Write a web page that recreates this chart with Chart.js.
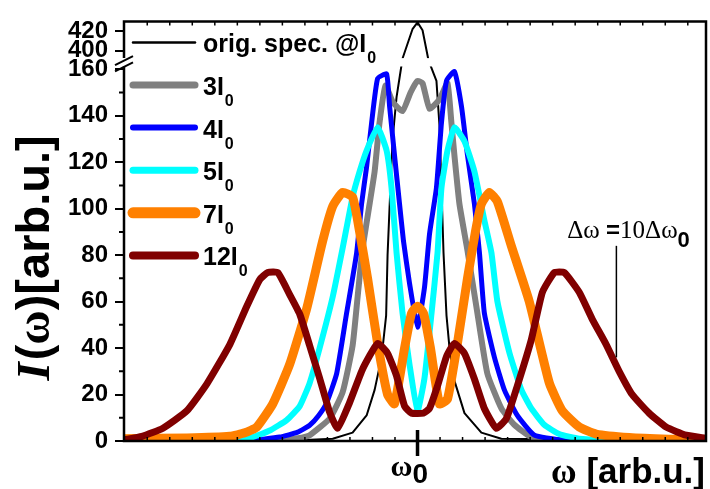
<!DOCTYPE html>
<html><head><meta charset="utf-8">
<script src="https://cdn.jsdelivr.net/npm/chart.js@4/dist/chart.umd.min.js"></script>
<style>html,body{margin:0;padding:0;background:#fff;}canvas{display:block;}</style>
</head><body>
<canvas id="c" width="710" height="489"></canvas>
<script>
// ---------- data (ω in arbitrary units, ω0 = 0; I(ω) in arb. units) ----------
const X_MIN = -24.5, X_MAX = 24.08;
const seriesLabels = ['orig. spec. @I', '3I', '4I', '5I', '7I', '12I'];
const yTickValues = [0, 20, 40, 60, 80, 100, 120, 140, 160, 400, 420];
const yTickLabels = ['0', '20', '40', '60', '80', '100', '120', '140', '160', '400', '420'];
const yMinorValues = [10, 30, 50, 70, 90, 110, 130, 150];
const Y_TOP_VALUE = 430;

const origX = [-24.5,-9.83,-7.08,-5.42,-4.25,-3.58,-3,-2.62,-2.5,-2.33,-2.08,-1.75,-1.25,-0.42,0,0.42,0.92,1.58,1.83,2,2.17,2.42,2.67,3.08,3.92,5.33,7,24.08];
const origY = [0,0.3,1,3.6,11,22,36,54,80,101,130,148,392,422,429,421,390,155,136,109,81,54,40,26,12,3.6,1,0];

const i3X = [-24.5,-12.33,-9.83,-9,-7.33,-6.25,-5.42,-5,-4.58,-4,-3.58,-3.17,-2.67,-2.08,-1.25,-0.58,0,0.42,1,1.83,2.5,2.83,3.08,3.5,4.17,5,5.83,7,8.08,9.5,11.83,24.08];
const i3Y = [0,0.2,1.3,2.5,9.7,21,41,62,83,102,116,137,153,146,142,150,155,154,143,147,154,137,123,102,82,55,29,14,7,1.7,0.3,0];

const i4X = [-24.5,-14,-11.5,-10,-9,-8.25,-7.58,-6.75,-5.92,-5.08,-4.67,-4.25,-3.83,-3.33,-2.58,-2.33,-1.92,-1.5,-1.17,-0.67,0,0.58,1,1.58,2,2.42,3.08,3.67,4.17,4.75,5.17,5.58,6.42,7.25,8.33,9.75,11.83,15.17,24.08];
const i4Y = [0,0.3,1.7,3.8,6.8,11,16.5,29,55,81,102,118,137,156,158,144,123,102,86,68,49,66,89,109,137,155,159,144,123,102,81,55,36,22,11,2.5,0.5,0,0];

const i5X = [-24.5,-15.67,-13.75,-12.33,-10.92,-9.83,-9,-8.17,-7.08,-6.25,-5.42,-4.83,-4.25,-3.33,-2.58,-2.17,-1.75,-1.25,-0.67,0,0.58,1.17,1.67,2,2.5,3.08,3.92,4.75,5.58,6.17,6.67,7.67,8.67,9.5,10.58,11.83,13.5,16.83,24.08];
const i5Y = [0,0.3,1.7,4.5,9,15,25,40,62,83,105,116,125,135,125,109,81,55,33,13,27,55,81,109,125,135,129,116,95,81,60,38,22,14,7,3,1,0.2,0];

const i7X = [-24.5,-19.25,-15.67,-14.42,-13.42,-12.08,-10.67,-9.25,-7.92,-7.08,-6.25,-5.42,-4.83,-4.17,-3.33,-2.5,-1.92,-1.08,-0.5,0,0.5,1.08,1.83,2.5,3.33,4.17,4.83,5.33,6,6.67,7.83,9.33,11,12.08,13.5,14.92,17.67,21,24.08];
const i7Y = [1,1.3,2,3.5,6,16,33,57,86,101,107,105,90,70,42,20,16,40,55,58,55,40,16,18,42,70,90,102,107,103,84,60,25,13,6,3,1.5,0.8,0.5];

const i12X = [-24.5,-23,-21.25,-19.25,-17.58,-15.67,-14.25,-13.17,-12.5,-11.67,-10.67,-9.83,-9,-8.17,-7.33,-6.67,-5.67,-4.58,-3.33,-2.5,-1.75,-1.08,-0.5,0.5,1,1.67,2.42,3.08,3.92,4.75,5.58,6.58,7.42,8.33,9.5,10.42,11.42,12.25,13.5,14.58,15.75,16.83,17.92,19.33,20.75,22.42,24.08];
const i12Y = [0.5,2,5.5,13,24.6,41.5,58,69.5,72.5,72.5,63,54.6,41,27,12.3,5.5,16.5,31,42,37.7,28,15,12,12,14,23.7,36.4,42,37.7,26.7,14,5.5,9.7,23.7,43.6,64,72.5,72.5,64,52.5,41.5,30,20,12,6,2.5,1.2];

// annotation "Δω = 10Δω0" (data coordinates)
const annotTextX = 12.5, annotTextY = 87.5;
const annotLineX = 16.6, annotLineY1 = 36, annotLineY2 = 84;

// ---------- broken y axis: 0..160 linear, then 400..430 compressed ----------
const BREAK_LOW = 160, BREAK_REF = 400, UPPER_OFFSET = 168, UPPER_FACTOR = 0.42;
const BREAK_GAP = [161.2, 164.8];
function toAxis(v) { return v <= BREAK_LOW ? v : UPPER_OFFSET + (v - BREAK_REF) * UPPER_FACTOR; }
function pts(xs, ys) { return xs.map((x, i) => ({ x: x, y: toAxis(ys[i]) })); }

const SANS = '"Liberation Sans", Arial, sans-serif';
const SERIF = '"Liberation Serif", "Times New Roman", serif';

const styles = [
  { color: '#000000', width: 2, lw: 2.5, tension: 0 },
  { color: '#808080', width: 6, lw: 7, tension: 0.15 },
  { color: '#0000ff', width: 5, lw: 6, tension: 0.15 },
  { color: '#00ffff', width: 6, lw: 7, tension: 0.15 },
  { color: '#ff8000', width: 9, lw: 11, tension: 0.15 },
  { color: '#800000', width: 7, lw: 8, tension: 0.15 }
];
const seriesData = [pts(origX, origY), pts(i3X, i3Y), pts(i4X, i4Y), pts(i5X, i5Y), pts(i7X, i7Y), pts(i12X, i12Y)];

const datasets = seriesData.map((d, i) => ({
  label: seriesLabels[i],
  data: d,
  borderColor: styles[i].color,
  borderWidth: styles[i].width,
  legendWidth: styles[i].lw,
  pointRadius: 0,
  tension: styles[i].tension,
  fill: false,
  borderJoinStyle: 'round',
  borderCapStyle: 'butt',
  order: 6 - i
}));

function drawParts(ctx, parts, x, y) {
  let cx = x;
  parts.forEach(p => {
    ctx.font = p.f;
    ctx.fillText(p.t, cx, y + (p.dy || 0));
    cx += ctx.measureText(p.t).width + (p.gap || 0);
  });
  return cx - x;
}
function measureParts(ctx, parts) {
  let w = 0;
  parts.forEach(p => { ctx.font = p.f; w += ctx.measureText(p.t).width + (p.gap || 0); });
  return w;
}

const decor = {
  id: 'decor',
  afterDatasetsDraw(chart) {
    const { ctx, chartArea: a, scales: { x, y } } = chart;
    const gTop = y.getPixelForValue(BREAK_GAP[1]);
    const gBot = y.getPixelForValue(BREAK_GAP[0]);
    ctx.save();
    ctx.fillStyle = '#fff';
    ctx.fillRect(a.left + 2, gTop, a.right - a.left - 4, gBot - gTop);
    ctx.strokeStyle = '#000';
    ctx.lineWidth = 2.5;
    ctx.beginPath();
    ctx.moveTo(a.left, gTop); ctx.lineTo(a.left, a.top); ctx.lineTo(a.right, a.top);
    ctx.lineTo(a.right, a.bottom); ctx.lineTo(a.left, a.bottom); ctx.lineTo(a.left, gBot);
    ctx.stroke();
    ctx.lineWidth = 2;
    ctx.beginPath();
    ctx.moveTo(a.left - 9, gTop + 7); ctx.lineTo(a.left + 9, gTop - 2);
    ctx.moveTo(a.left - 9, gBot + 5); ctx.lineTo(a.left + 9, gBot - 4);
    ctx.stroke();
    ctx.lineWidth = 2;
    ctx.beginPath();
    yMinorValues.forEach(v => {
      const py = y.getPixelForValue(toAxis(v));
      ctx.moveTo(a.left - 5, py); ctx.lineTo(a.left, py);
    });
    ctx.stroke();
    ctx.lineWidth = 1.5;
    ctx.beginPath();
    for (let k = -13; k <= 12; k++) {
      const px = x.getPixelForValue(k * 1.88);
      if (px < a.left + 2 || px > a.right - 2) continue;
      ctx.moveTo(px, a.bottom); ctx.lineTo(px, a.bottom - 4);
      ctx.moveTo(px, a.top); ctx.lineTo(px, a.top + 4);
    }
    ctx.stroke();
    const p0 = x.getPixelForValue(0);
    ctx.lineWidth = 3.5;
    ctx.beginPath(); ctx.moveTo(p0, a.bottom - 11); ctx.lineTo(p0, a.bottom + 15); ctx.stroke();
    ctx.lineWidth = 1.5;
    const ax = x.getPixelForValue(annotLineX);
    ctx.beginPath();
    ctx.moveTo(ax, y.getPixelForValue(annotLineY2)); ctx.lineTo(ax, y.getPixelForValue(annotLineY1));
    ctx.stroke();
    ctx.restore();
  },
  afterDraw(chart) {
    const { ctx, chartArea: a, scales: { x, y } } = chart;
    ctx.save();
    ctx.fillStyle = '#000';
    ctx.textBaseline = 'alphabetic';
    chart.data.datasets.forEach((ds, i) => {
      const yy = a.top + 21 + i * 42.6;
      ctx.strokeStyle = ds.borderColor;
      ctx.lineWidth = ds.legendWidth;
      ctx.lineCap = 'round';
      ctx.beginPath(); ctx.moveTo(a.left + 9, yy); ctx.lineTo(a.left + 71, yy); ctx.stroke();
      const tx = a.left + 79;
      drawParts(ctx, [
        { t: ds.label, f: 'bold 25px ' + SANS, gap: 1 },
        { t: '0', f: 'bold 16px ' + SANS, dy: 11 }
      ], tx, yy + 10);
    });
    const tx = x.getPixelForValue(annotTextX), ty = y.getPixelForValue(annotTextY);
    drawParts(ctx, [
      { t: 'Δω ', f: '25px ' + SERIF },
      { t: '=', f: 'bold 24px ' + SANS },
      { t: '10Δω', f: '25px ' + SERIF },
      { t: '0', f: 'bold 22px ' + SANS, dy: 9 }
    ], tx, ty);
    const p0 = x.getPixelForValue(0);
    ctx.font = 'bold 30px ' + SERIF;
    const ww = ctx.measureText('ω').width;
    drawParts(ctx, [
      { t: 'ω', f: 'bold 30px ' + SERIF },
      { t: '0', f: 'bold 28px ' + SANS, dy: 7 }
    ], p0 - 5 - ww, a.bottom + 35);
    const xt = [
      { t: 'ω', f: 'bold 35px ' + SERIF },
      { t: ' [arb.u.]', f: 'bold 35px ' + SANS }
    ];
    drawParts(ctx, xt, a.right - measureParts(ctx, xt) - 1, a.bottom + 42);
    const yt = [
      { t: 'I', f: 'italic bold 47px ' + SERIF, gap: 2 },
      { t: '(', f: 'bold 47px ' + SANS },
      { t: 'ω', f: 'bold 47px ' + SERIF },
      { t: ')[arb.u.]', f: 'bold 47px ' + SANS }
    ];
    ctx.translate(36, 258);
    ctx.rotate(-Math.PI / 2);
    drawParts(ctx, yt, -measureParts(ctx, yt) / 2, 13);
    ctx.restore();
  }
};

new Chart(document.getElementById('c'), {
  type: 'line',
  data: { datasets: datasets },
  options: {
    responsive: false,
    animation: false,
    events: [],
    layout: { padding: { left: 0, right: 4, top: 12, bottom: 0 } },
    plugins: { legend: { display: false }, tooltip: { enabled: false } },
    scales: {
      x: {
        type: 'linear', min: X_MIN, max: X_MAX,
        ticks: { display: false },
        grid: { display: false },
        border: { display: false },
        afterFit(s) { s.height = 48; }
      },
      y: {
        type: 'linear', min: 0, max: toAxis(Y_TOP_VALUE),
        afterBuildTicks(s) { s.ticks = yTickValues.map(v => ({ value: toAxis(v) })); },
        afterFit(s) { s.width = 124; },
        ticks: {
          autoSkip: false,
          padding: 7,
          color: '#000',
          font: { family: SANS, weight: 'bold', size: 24 },
          callback: (v, i) => yTickLabels[i]
        },
        grid: { drawOnChartArea: false, drawTicks: true, tickLength: 9, color: '#000', lineWidth: 2 },
        border: { display: false }
      }
    }
  },
  plugins: [decor]
});
</script>
</body></html>
